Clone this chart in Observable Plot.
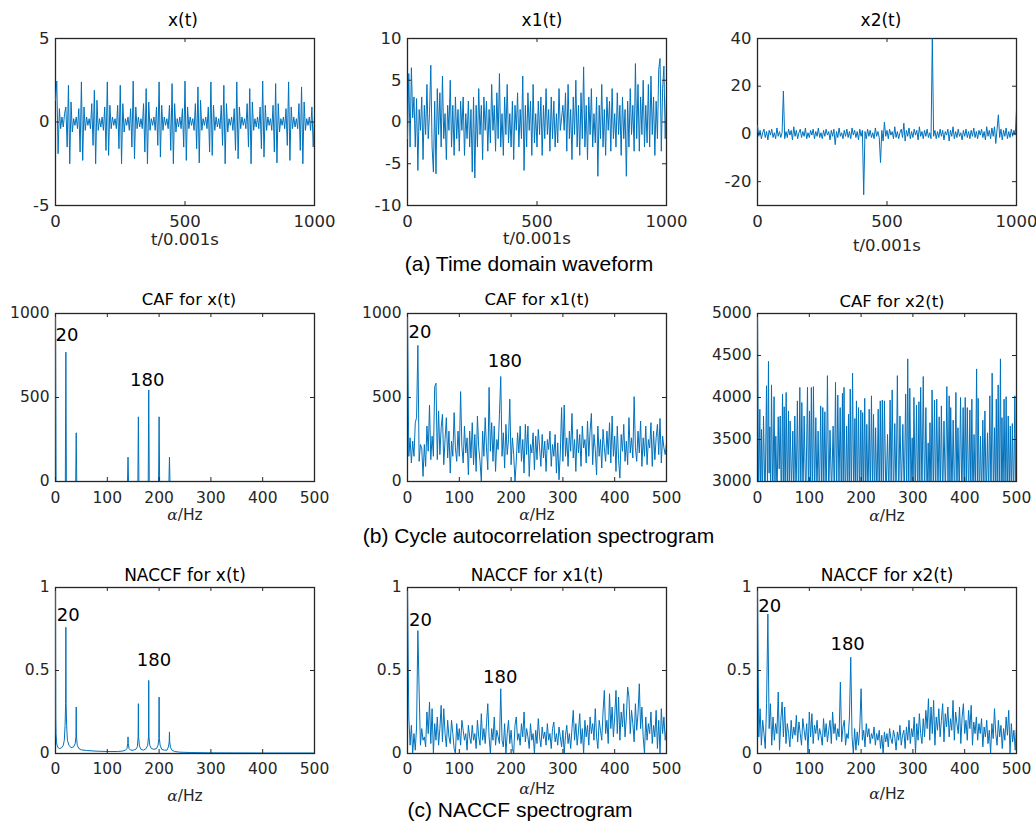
<!DOCTYPE html>
<html><head><meta charset="utf-8">
<script src="https://cdn.jsdelivr.net/npm/d3@7"></script>
<script src="https://cdn.jsdelivr.net/npm/@observablehq/plot@0.6"></script>
<style>
body{margin:0;background:#fff;}
#root{position:relative;width:1036px;height:821px;overflow:hidden;background:#fff;}
.cap{position:absolute;font-family:"Liberation Sans",Arial,sans-serif;font-size:21px;color:#000;white-space:nowrap;transform:translate(-50%,-50%);line-height:1;}
</style></head><body><div id="root"></div>
<script>
// ---------- DATA ----------
const tStep = 5;        // samples between listed time-domain values (t/0.001s)
const aStep = 2.5;      // Hz between listed spectrum values

const xt = [
 1.3, 2.45, -1.9, 0.8, -0.4, 0.3, -0.3, 0.5, 0.9, -1.5,
 2.2, -2.5, 1.2, -0.6, 0.2, -0.2, 0.3, -0.4, 0.8, -1.8,
 2.4, -2.3, 0.9, -0.5, 0.3, -0.2, 0.2, -0.4, 1.1, -1.4,
 1.9, -2.5, 1.3, -0.5, 0.2, -0.3, 0.3, -0.5, 0.9, -1.7,
 2.4, -2.0, 1.0, -0.4, 0.3, -0.2, 0.2, -0.4, 1.0, -1.6,
 2.2, -2.5, 1.1, -0.6, 0.2, -0.2, 0.3, -0.5, 0.8, -1.5,
 2.45, -2.2, 0.9, -0.4, 0.3, -0.3, 0.2, -0.4, 1.1, -1.8,
 2.0, -2.5, 1.2, -0.5, 0.2, -0.2, 0.3, -0.5, 0.9, -1.4,
 2.4, -2.1, 1.0, -0.5, 0.3, -0.2, 0.2, -0.4, 1.0, -1.7,
 2.3, -2.5, 1.1, -0.6, 0.2, -0.3, 0.3, -0.4, 0.8, -1.5,
 2.45, -2.3, 0.9, -0.4, 0.3, -0.2, 0.2, -0.5, 1.1, -1.6,
 2.1, -2.45, 1.3, -0.5, 0.2, -0.2, 0.3, -0.4, 0.9, -1.8,
 2.4, -2.0, 1.0, -0.5, 0.3, -0.3, 0.2, -0.4, 1.0, -1.4,
 2.2, -2.5, 1.1, -0.6, 0.2, -0.2, 0.3, -0.5, 0.8, -1.7,
 2.4, -2.2, 0.9, -0.4, 0.3, -0.2, 0.2, -0.4, 1.1, -1.5,
 2.0, -2.5, 1.2, -0.5, 0.2, -0.3, 0.3, -0.4, 0.9, -1.6,
 2.45, -2.1, 1.0, -0.5, 0.3, -0.2, 0.2, -0.5, 1.0, -1.8,
 2.3, -2.45, 1.1, -0.6, 0.2, -0.2, 0.3, -0.4, 0.8, -1.4,
 2.4, -2.3, 0.9, -0.4, 0.3, -0.3, 0.2, -0.4, 1.1, -1.7,
 2.1, -2.5, 1.2, -0.5, 0.2, -0.2, 0.3, -0.5, 0.9, -1.5,
 0.4
];

const x1t = [
 -2.0, 5.8, -3.0, 6.5, 0.5, 3.0, -3.0, 2.8, -5.8, 1.5,
 -1.0, 3.0, -4.5, 2.0, -1.5, 4.5, -2.0, 1.0, 6.8, -3.0,
 -6.0, 2.5, -6.2, 4.0, -1.5, 3.5, -3.0, 5.5, -2.0, 1.0,
 -4.5, 2.0, -1.0, 5.0, -3.0, 2.0, -4.0, 3.0, -2.0, 1.5,
 -3.5, 2.5, -1.0, 3.0, -4.0, 1.0, -2.0, 2.5, -3.0, 1.5,
 -6.0, 3.0, -6.7, 2.0, -3.0, 4.0, -1.5, 2.0, -4.5, 3.0,
 -1.0, 2.5, -3.5, 1.5, -2.5, 4.5, -1.0, 2.0, -3.5, 3.5,
 -2.0, 5.8, -3.0, 1.0, -4.0, 3.0, -1.5, 4.5, -2.5, 1.0,
 -3.0, 2.5, -4.5, 2.0, -1.0, 3.5, -3.0, 1.5, -2.0, 5.5,
 -5.8, 2.0, -3.0, 3.5, -1.0, 2.5, -4.0, 4.5, -2.5, 1.0,
 -3.0, 2.5, -1.5, 3.0, -4.0, 2.0, -2.0, 4.0, -1.5, 1.5,
 -3.5, 3.0, -2.0, 2.5, -3.0, 1.0, -2.5, 4.0, -1.0, 0.5,
 2.0, -1.0, 3.5, -3.5, 4.5, -2.0, 1.5, -4.5, 3.0, -1.5,
 5.0, -3.0, 2.0, -4.0, 3.5, -2.0, 6.6, -3.0, 2.0, -4.5,
 3.0, -1.5, 4.0, -3.0, 1.0, -2.5, 3.0, -6.5, 2.0, -2.0,
 4.5, -3.0, 1.5, -4.0, 3.0, -1.0, 2.5, -3.5, 4.0, -2.0,
 1.0, -3.0, 3.5, -1.5, 2.0, -4.0, 3.0, -2.0, 1.5, -6.5,
 2.5, -3.0, 4.0, -1.5, 2.0, -3.5, 7.0, -2.0, 4.5, -3.5,
 3.0, -1.5, 5.0, -3.0, 2.0, -2.5, 4.5, -3.0, 5.5, -1.5,
 3.0, -4.0, 2.5, -2.0, 6.3, 7.6, -3.5, 4.0, 6.7, -2.0,
 3.2
];

const x2t = [
 3.5, -1.0, 1.5, -2.0, 0.5, 2.0, -1.5, 1.0, -2.5, 1.5,
 -0.5, 2.0, -1.5, 0.5, -2.0, 2.5, -1.0, 1.0, -1.5, 0.5,
 18.0, -2.0, 1.0, -1.5, 2.0, -0.5, 1.5, -2.5, 3.0, -1.0,
 1.5, -2.0, 0.5, 2.0, -1.5, 1.0, -1.0, 2.5, -2.0, 0.5,
 -1.5, 1.5, -0.5, 2.0, -2.0, 1.0, -1.0, 2.5, -1.5, 0.5,
 -2.0, 1.5, -1.0, 2.0, -0.5, 1.0, -2.5, 1.5, -1.0, 2.0,
 -4.5, 1.0, -1.5, 2.5, -1.0, 0.5, -2.0, 1.5, -1.0, 2.0,
 -1.5, 1.0, -2.0, 2.5, -0.5, 1.5, -1.5, 1.0, -2.5, 2.0,
 -1.0, 1.5, -25.5, 1.0, -2.0, 2.0, -1.0, 1.5, -1.5, 0.5,
 -2.0, 2.5, -1.0, 1.0, -1.5, -12.0, 1.5, -3.0, 5.0, -1.0,
 1.5, -2.0, 2.0, -0.5, 1.0, -2.0, 3.0, -1.5, 1.0, -2.0,
 0.5, 2.0, -1.5, 4.5, -3.0, 1.5, -1.0, 2.5, -2.0, 1.0,
 -1.5, 2.0, -0.5, 1.5, -2.5, 3.0, -1.0, 1.0, -2.0, 1.5,
 -1.0, 2.0, -1.5, 0.5, -2.0, 40.0, -1.0, 1.5, -2.0, 1.0,
 -1.5, 2.0, -1.0, 1.5, -2.5, 1.0, -0.5, 2.0, -3.0, 1.5,
 -1.0, 3.0, -2.0, 1.0, -1.5, 2.0, -1.0, 0.5, -2.5, 1.5,
 -1.0, 2.0, -1.5, 1.0, -2.0, 1.5, -1.0, 2.5, -1.5, 1.0,
 -2.0, 1.5, -0.5, 2.0, -1.5, 1.0, -2.5, 3.0, -1.0, 1.5,
 -2.0, 2.5, -1.0, 3.0, -4.0, 2.0, 8.0, -1.5, 2.0, -2.5,
 1.5, -1.0, 2.5, -2.0, 1.0, -1.5, 2.0, -1.0, 1.5, -0.5,
 10.0
];

// [alpha Hz, CAF]
const cafX = [[0,1000],[1,0],[19,0],[20,770],[21,0],[39,0],[40,290],[41,0],[139,0],[140,145],[141,0],
 [159,0],[160,385],[161,0],[179,0],[180,545],[181,0],[199,0],[200,385],[201,0],[219,0],[220,145],[221,0],[500,0]];

const cafX1 = [
 1000, 150, 260, 110, 240, 150, 350, 380, 810, 120,
 220, 200, 30, 220, 90, 330, 180, 455, 130, 270,
 150, 565, 585, 130, 420, 160, 320, 400, 100, 250,
 380, 140, 300, 50, 240, 150, 410, 200, 120, 300,
 150, 535, 210, 110, 330, 170, 260, 40, 300, 140,
 350, 100, 280, 60, 390, 200, 120, 0, 300, 150,
 380, 200, 70, 560, 180, 350, 120, 330, 60, 250,
 190, 400, 625, 150, 290, 80, 340, 160, 250, 490,
 100, 260, 160, 0, 120, 290, 170, 330, 120, 250,
 50, 340, 160, 330, 30, 220, 170, 290, 70, 270,
 130, 310, 200, 90, 280, 140, 240, 60, 250, 190,
 300, 90, 220, 150, 280, 50, 230, 10, 170, 440,
 120, 455, 150, 260, 90, 300, 180, 405, 140, 250,
 60, 310, 170, 280, 90, 330, 200, 250, 110, 360,
 150, 300, 405, 100, 280, 190, 40, 330, 150, 250,
 80, 310, 200, 120, 300, 160, 350, 110, 390, 150,
 270, 60, 330, 130, 20, 280, 180, 340, 120, 240,
 100, 380, 170, 260, 140, 505, 200, 120, 300, 170,
 360, 90, 260, 150, 330, 100, 250, 200, 350, 90,
 300, 130, 260, 340, 160, 375, 110, 270, 200, 160,
 230
];

const cafX2 = [[0,5000],[2.2,2800],[4.5,3860],[6.1,2750],[7.7,3620],[9.6,2850],[11.6,3780],[14.5,2700],[17.4,4140],[19.3,2900],
 [21.2,4430],[22.5,3100],[23.8,3650],[25.4,2800],[27,4150],[29.5,2750],[32,4010],[33.7,2900],[35.4,3540],[37.7,2800],
 [40,3770],[41.9,3150],[43.8,3780],[46,2750],[48.3,4040],[49.9,2800],[51.5,3890],[53.4,2700],[55.3,4060],[57.5,2850],
 [59.8,3840],[61.4,2800],[63,3720],[65.6,2900],[68.2,3600],[70.1,2750],[72,3780],[74.5,2800],[77,3960],[79.3,2700],
 [81.7,4120],[83.6,2850],[85.6,3940],[87.8,2800],[90,3780],[93.2,2750],[96.5,4120],[98.4,2800],[100.4,3840],[102.2,2900],
 [104,4120],[106,2700],[108,4130],[110.3,2800],[112.6,3760],[114.8,2850],[117,3600],[119.5,2750],[122,3900],[124,2800],
 [126,3880],[128,2900],[130,3830],[132.5,2700],[135,4260],[137.5,2800],[140,3610],[143,2850],[146,3660],[148.3,2750],
 [150.6,4180],[152.8,2800],[155,4030],[157.3,2900],[159.6,3880],[161.8,2750],[164,4050],[165.5,2800],[167,4120],[169.5,2700],
 [172,3660],[173.9,2850],[175.7,3800],[177.4,2800],[179,4100],[181.3,2750],[183.5,4290],[185.8,2800],[188,3750],[189.5,2900],
 [191,3960],[193,2750],[195,3880],[197.3,2800],[199.5,3850],[201.3,2700],[203,3820],[205,2850],[207,3990],[209,2800],
 [211,3680],[213.3,2750],[215.6,3860],[217.8,2800],[220,4020],[222,2900],[224,3800],[226,2750],[228,3640],[230.5,2800],
 [233,3860],[235,2700],[237,3960],[239,2850],[241,3970],[243,2800],[245,3960],[248,2750],[251,3560],[253.5,2800],
 [256,3970],[258,2900],[260,4090],[262.5,2750],[265,3690],[267.5,2800],[270,4260],[272.5,2700],[275,3780],[277.8,2850],
 [280.6,3680],[283.3,2800],[286,4040],[288,2750],[290,4460],[292,2800],[294,4110],[296.3,2900],[298.6,3520],[300.3,2750],
 [302,4000],[304.5,2800],[307,3910],[309.3,2700],[311.6,3950],[313.3,2850],[315,4120],[317.5,2800],[320,4250],[322.5,2750],
 [325,3880],[327.3,2800],[329.5,3460],[331.3,2900],[333,3700],[335,2750],[337,4090],[339.4,2800],[341.7,3970],[343.9,2700],
 [346,3980],[348.4,2850],[350.7,3770],[352.9,2800],[355,3900],[357.5,2750],[360,3720],[362.8,2800],[365.5,4130],[367.8,2900],
 [370,4020],[371.5,2750],[373,3880],[375.4,2800],[377.7,3730],[380.4,2700],[383,4060],[385,2850],[387,3640],[389.5,2800],
 [392,4000],[394.5,2750],[397,3880],[399,2800],[401,4000],[403,2900],[405,3880],[407.5,2750],[410,3850],[411.9,2800],
 [413.8,3980],[416,2700],[418,3560],[420.5,2850],[423,4340],[424.5,2800],[426,3990],[428.3,2750],[430.5,3540],[432.8,2800],
 [435,3730],[437,2900],[439,3840],[441.5,2750],[444,3580],[446.3,2800],[448.5,4020],[450.8,2700],[453,4290],[455.3,2850],
 [457.5,3640],[459.3,2800],[461,3980],[462.8,2750],[464.6,4150],[466.8,2800],[469,4460],[470.5,2900],[472,3760],[474,2750],
 [476,3980],[478,2800],[480,4010],[482,2700],[484,3780],[486,2850],[488,3660],[490,2800],[492,3690],[494.4,2750],
 [496.8,4020],[498.4,2800],[500,4000]];

// [alpha Hz, NACCF]
const naccfX = [[0,1.0],[0.5,0.22],[1,0.12],[2,0.07],[3,0.05],[5,0.035],[8,0.03],[12,0.035],[15,0.05],[17,0.08],
 [18.5,0.17],[19.5,0.3],[20,0.76],[20.5,0.3],[21.5,0.17],[23,0.08],[26,0.05],[30,0.035],[35,0.04],[38,0.06],
 [39.5,0.1],[40,0.28],[40.5,0.1],[42,0.05],[45,0.03],[50,0.022],[60,0.018],[80,0.014],[100,0.012],[120,0.012],
 [130,0.015],[135,0.02],[138,0.03],[139.5,0.06],[140,0.10],[140.5,0.06],[142,0.03],[145,0.02],[150,0.02],[155,0.025],
 [158,0.04],[159.5,0.1],[160,0.30],[160.5,0.1],[162,0.045],[165,0.025],[170,0.02],[175,0.03],[178,0.05],[179.5,0.1],
 [180,0.44],[180.5,0.1],[182,0.05],[185,0.03],[190,0.025],[195,0.03],[198,0.05],[199.5,0.09],[200,0.34],[200.5,0.09],
 [202,0.05],[205,0.025],[210,0.02],[215,0.02],[218,0.04],[219.5,0.07],[220,0.13],[220.5,0.07],[222,0.035],[225,0.02],
 [230,0.012],[240,0.008],[260,0.006],[300,0.004],[400,0.003],[500,0.003]];

const naccfX1 = [
 1.0, 0.22, 0.05, 0.17, 0.0, 0.12, 0.02, 0.16, 0.74, 0.37,
 0.05, 0.15, 0.08, 0.10, 0.04, 0.25, 0.12, 0.31, 0.06, 0.27,
 0.0, 0.18, 0.08, 0.22, 0.05, 0.15, 0.29, 0.07, 0.27, 0.12,
 0.04, 0.20, 0.10, 0.06, 0.20, 0.12, 0.03, 0.0, 0.18, 0.08,
 0.15, 0.05, 0.20, 0.14, 0.08, 0.12, 0.02, 0.17, 0.10, 0.06,
 0.17, 0.08, 0.12, 0.03, 0.20, 0.10, 0.05, 0.24, 0.08, 0.15,
 0.06, 0.18, 0.30, 0.10, 0.0, 0.15, 0.08, 0.22, 0.05, 0.14,
 0.10, 0.06, 0.39, 0.08, 0.04, 0.18, 0.0, 0.12, 0.20, 0.06,
 0.14, 0.03, 0.0, 0.17, 0.22, 0.08, 0.12, 0.05, 0.18, 0.10,
 0.25, 0.07, 0.15, 0.10, 0.03, 0.18, 0.08, 0.12, 0.0, 0.14,
 0.06, 0.21, 0.10, 0.04, 0.16, 0.09, 0.13, 0.05, 0.18, 0.08,
 0.12, 0.03, 0.15, 0.19, 0.07, 0.12, 0.05, 0.16, 0.10, 0.04,
 0.14, 0.0, 0.11, 0.17, 0.06, 0.12, 0.03, 0.15, 0.26, 0.08,
 0.18, 0.05, 0.13, 0.24, 0.06, 0.15, 0.0, 0.20, 0.10, 0.17,
 0.05, 0.22, 0.12, 0.18, 0.08, 0.27, 0.10, 0.03, 0.20, 0.14,
 0.08, 0.25, 0.38, 0.12, 0.20, 0.06, 0.36, 0.15, 0.28, 0.10,
 0.22, 0.38, 0.12, 0.34, 0.08, 0.25, 0.16, 0.30, 0.10, 0.22,
 0.40, 0.34, 0.12, 0.26, 0.18, 0.07, 0.30, 0.14, 0.24, 0.42,
 0.15, 0.28, 0.10, 0.0, 0.22, 0.08, 0.18, 0.12, 0.25, 0.06,
 0.17, 0.10, 0.26, 0.03, 0.20, 0.0, 0.27, 0.12, 0.22, 0.08,
 0.15
];

const naccfX2 = [
 1.0, 0.10, 0.27, 0.05, 0.20, 0.12, 0.03, 0.30, 0.84, 0.15,
 0.30, 0.05, 0.22, 0.08, 0.18, 0.12, 0.37, 0.02, 0.20, 0.31,
 0.10, 0.28, 0.06, 0.18, 0.12, 0.04, 0.20, 0.09, 0.16, 0.11,
 0.23, 0.07, 0.19, 0.12, 0.05, 0.21, 0.14, 0.08, 0.18, 0.0,
 0.25, 0.10, 0.24, 0.06, 0.17, 0.12, 0.20, 0.08, 0.15, 0.11,
 0.05, 0.21, 0.10, 0.18, 0.07, 0.14, 0.20, 0.06, 0.25, 0.12,
 0.18, 0.08, 0.15, 0.10, 0.43, 0.07, 0.16, 0.20, 0.05, 0.12,
 0.09, 0.22, 0.58, 0.10, 0.0, 0.15, 0.02, 0.13, 0.05, 0.16,
 0.39, 0.08, 0.14, 0.04, 0.18, 0.10, 0.15, 0.06, 0.12, 0.09,
 0.16, 0.05, 0.12, 0.08, 0.14, 0.03, 0.11, 0.0, 0.13, 0.07,
 0.12, 0.04, 0.15, 0.09, 0.06, 0.14, 0.10, 0.02, 0.13, 0.08,
 0.17, 0.05, 0.11, 0.14, 0.03, 0.16, 0.08, 0.20, 0.06, 0.15,
 0.10, 0.22, 0.0, 0.18, 0.08, 0.24, 0.12, 0.06, 0.21, 0.10,
 0.26, 0.15, 0.33, 0.08, 0.28, 0.12, 0.32, 0.05, 0.22, 0.14,
 0.27, 0.10, 0.20, 0.30, 0.07, 0.24, 0.16, 0.28, 0.10, 0.21,
 0.14, 0.32, 0.08, 0.25, 0.18, 0.12, 0.28, 0.06, 0.22, 0.30,
 0.12, 0.20, 0.08, 0.26, 0.15, 0.29, 0.05, 0.19, 0.12, 0.22,
 0.08, 0.18, 0.12, 0.21, 0.04, 0.16, 0.10, 0.20, 0.06, 0.14,
 0.0, 0.18, 0.09, 0.27, 0.12, 0.05, 0.20, 0.10, 0.17, 0.03,
 0.15, 0.08, 0.22, 0.11, 0.26, 0.0, 0.18, 0.07, 0.14, 0.02,
 0.16
];

// tick values
const tTicks = [0, 500, 1000];
const aTicks = [0, 100, 200, 300, 400, 500];
const yTicksX = [-5, 0, 5];
const yTicksX1 = [-10, -5, 0, 5, 10];
const yTicksX2 = [-20, 0, 20, 40];
const yTicksCaf = [0, 500, 1000];
const yTicksCaf2 = [3000, 3500, 4000, 4500, 5000];
const yTicksN = [0, 0.5, 1];

// texts
const titles = ["x(t)", "x1(t)", "x2(t)", "CAF for x(t)", "CAF for x1(t)", "CAF for x2(t)",
                "NACCF for x(t)", "NACCF for x1(t)", "NACCF for x2(t)"];
const rowCaptions = ["(a) Time domain waveform", "(b) Cycle autocorrelation spectrogram", "(c) NACCF spectrogram"];
const timeLabel = "t/0.001s";
const freqLabel = "α/Hz";
// peak annotations [alpha, value, label]
const notesCafX  = [[22, 870, "20"], [177, 600, "180"]];
const notesCafX1 = [[24, 890, "20"], [188, 714, "180"]];
const notesNX    = [[24.5, 0.83, "20"], [190, 0.56, "180"]];
const notesNX1   = [[25, 0.80, "20"], [179, 0.46, "180"]];
const notesNX2   = [[23.5, 0.89, "20"], [174, 0.66, "180"]];

// ---------- DRAWING ----------
const BLUE = "#0072BD";
const INK = "#262626";
const FONT = "DejaVu Sans, Liberation Sans, sans-serif";
const ML = 60, MR = 30, MT = 45, MB = 70;
const root = document.getElementById("root");

const stepSeries = (vals, step) => vals.map((v, i) => ({x: i * step, y: v}));
const pairSeries = (pairs) => pairs.map(([x, y]) => ({x, y}));

function panel(o) {
  const w = o.w, h = o.h;
  const marks = [
    Plot.frame({stroke: INK, strokeWidth: 1.3}),
    Plot.line(o.data, {x: "x", y: "y", stroke: BLUE, strokeWidth: 1, clip: true}),
    // inward ticks, MATLAB box style
    Plot.tickX(o.xTicks, {x: d => d, stroke: INK, strokeWidth: 1, insetTop: h - 4}),
    Plot.tickX(o.xTicks, {x: d => d, stroke: INK, strokeWidth: 1, insetBottom: h - 4}),
    Plot.tickY(o.yTicks, {y: d => d, stroke: INK, strokeWidth: 1, insetRight: w - 4}),
    Plot.tickY(o.yTicks, {y: d => d, stroke: INK, strokeWidth: 1, insetLeft: w - 4}),
    // tick labels
    Plot.text(o.xTicks, {x: d => d, text: d => String(d), frameAnchor: "bottom", lineAnchor: "middle", dy: o.tickDy, fontSize: o.tickFs, fill: INK}),
    Plot.text(o.yTicks, {y: d => d, text: d => String(d), frameAnchor: "left", textAnchor: "end", lineAnchor: "middle", dx: -6, fontSize: o.tickFs, fill: INK}),
    // title and axis label
    Plot.text([o.title], {text: d => d, frameAnchor: "top", lineAnchor: "middle", dy: o.titleDy, dx: o.titleDx || 0, fontSize: o.titleFs, fill: "#000"}),
    Plot.text([o.xLabel], {text: d => d, frameAnchor: "bottom", lineAnchor: "middle", dy: o.labelDy, fontSize: o.tickFs, fill: INK})
  ];
  if (o.notes) marks.push(Plot.text(o.notes, {x: d => d[0], y: d => d[1], text: d => d[2], fontSize: 18, fill: "#000"}));
  const svg = Plot.plot({
    width: ML + w + MR, height: MT + h + MB,
    marginLeft: ML, marginRight: MR, marginTop: MT, marginBottom: MB,
    x: {domain: o.xDomain, axis: null},
    y: {domain: o.yDomain, axis: null},
    style: {fontFamily: FONT, background: "transparent", overflow: "visible"},
    marks
  });
  svg.style.position = "absolute";
  svg.style.left = (o.left - ML) + "px";
  svg.style.top = (o.top - MT) + "px";
  svg.querySelectorAll("text").forEach(t => {
    if (t.textContent === freqLabel) t.innerHTML = '<tspan font-style="italic" font-family="DejaVu Serif, serif">α</tspan>/Hz';
  });
  root.appendChild(svg);
}

const colLeft = [55, 407, 757];
const W = 259;
const rowTop = [37.5, 313, 587];
const rowH = [167, 168, 166];

// Row 1
const r1 = {top: rowTop[0], h: rowH[0], w: W, xDomain: [0, 1000], xTicks: tTicks, tickDy: 16, tickFs: 16.5, titleFs: 17, xLabel: timeLabel};
panel({...r1, left: colLeft[0], yDomain: [-5, 5], yTicks: yTicksX, data: stepSeries(xt, tStep), title: titles[0], titleDy: -17.5, titleDx: -2, labelDy: 34.5});
panel({...r1, left: colLeft[1], yDomain: [-10, 10], yTicks: yTicksX1, data: stepSeries(x1t, tStep), title: titles[1], titleDy: -17.5, titleDx: 5, labelDy: 33});
panel({...r1, left: colLeft[2], yDomain: [-30, 40], yTicks: yTicksX2, data: stepSeries(x2t, tStep), title: titles[2], titleDy: -17.5, titleDx: -6, labelDy: 40});

// Row 2
const r2 = {top: rowTop[1], h: rowH[1], w: W, xDomain: [0, 500], xTicks: aTicks, tickDy: 17, tickFs: 15.5, titleFs: 16.5, xLabel: freqLabel};
panel({...r2, left: colLeft[0], yDomain: [0, 1000], yTicks: yTicksCaf, data: pairSeries(cafX), title: titles[3], titleDy: -13.5, titleDx: 4, labelDy: 34, notes: notesCafX});
panel({...r2, left: colLeft[1], yDomain: [0, 1000], yTicks: yTicksCaf, data: stepSeries(cafX1, aStep), title: titles[4], titleDy: -13.5, labelDy: 33.5, notes: notesCafX1});
panel({...r2, left: colLeft[2], yDomain: [3000, 5000], yTicks: yTicksCaf2, data: pairSeries(cafX2), title: titles[5], titleDy: -11.5, titleDx: 5, labelDy: 35});

// Row 3
const r3 = {top: rowTop[2], h: rowH[2], w: W, xDomain: [0, 500], xTicks: aTicks, tickDy: 16, tickFs: 15.5, titleFs: 17, xLabel: freqLabel};
panel({...r3, left: colLeft[0], yDomain: [0, 1], yTicks: yTicksN, data: pairSeries(naccfX), title: titles[6], titleDy: -12, labelDy: 43, notes: notesNX});
panel({...r3, left: colLeft[1], yDomain: [0, 1], yTicks: yTicksN, data: stepSeries(naccfX1, aStep), title: titles[7], titleDy: -12, labelDy: 35.5, notes: notesNX1});
panel({...r3, left: colLeft[2], yDomain: [0, 1], yTicks: yTicksN, data: stepSeries(naccfX2, aStep), title: titles[8], titleDy: -12, labelDy: 41, notes: notesNX2});

// row captions
const capPos = [[529, 263], [538.5, 535], [520, 808.5]];
rowCaptions.forEach((c, i) => {
  const d = document.createElement("div");
  d.className = "cap";
  d.textContent = c;
  d.style.left = capPos[i][0] + "px";
  d.style.top = capPos[i][1] + "px";
  root.appendChild(d);
});
</script></body></html>
